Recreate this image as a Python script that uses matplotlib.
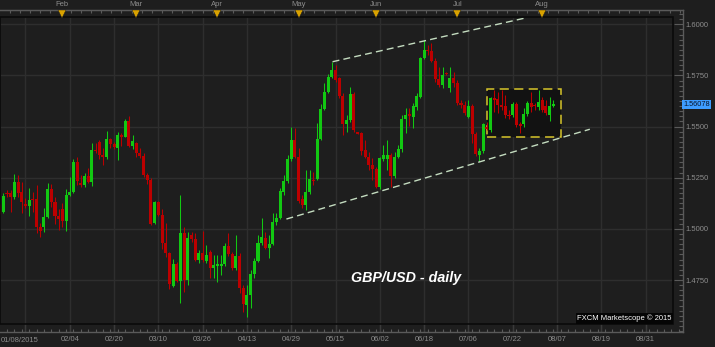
import numpy as np
import pandas as pd
import matplotlib
matplotlib.use("Agg")
import matplotlib.pyplot as plt
from matplotlib.patches import Rectangle
from matplotlib.ticker import MultipleLocator

# GBP/USD daily candles, one per weekday 2015-01-08 .. 2015-08-06
dates = pd.bdate_range("2015-01-08", "2015-08-06")

opens = [
    1.5112, 1.5084, 1.5177, 1.5175, 1.5157, 1.5231, 1.5180, 1.5123, 1.5112, 1.5146,
    1.5144, 1.5010, 1.5010, 1.5059, 1.5195, 1.5133, 1.5063, 1.5097, 1.5040, 1.5165,
    1.5181, 1.5325, 1.5226, 1.5214, 1.5258, 1.5231, 1.5385, 1.5423, 1.5361, 1.5353,
    1.5437, 1.5415, 1.5393, 1.5459, 1.5450, 1.5529, 1.5406, 1.5418, 1.5369, 1.5357,
    1.5263, 1.5239, 1.5027, 1.5130, 1.5067, 1.4929, 1.4880, 1.4722, 1.4828, 1.4746,
    1.4978, 1.4750, 1.4970, 1.4950, 1.4847, 1.4880, 1.4844, 1.4888, 1.4810, 1.4816,
    1.4820, 1.4826, 1.4917, 1.4875, 1.4807, 1.4869, 1.4709, 1.4627, 1.4676, 1.4778,
    1.4843, 1.4929, 1.4956, 1.4905, 1.4926, 1.5035, 1.5054, 1.5178, 1.5235, 1.5340,
    1.5434, 1.5353, 1.5146, 1.5116, 1.5181, 1.5241, 1.5242, 1.5439, 1.5586, 1.5667,
    1.5744, 1.5777, 1.5736, 1.5651, 1.5511, 1.5532, 1.5658, 1.5472, 1.5467, 1.5385,
    1.5353, 1.5312, 1.5291, 1.5203, 1.5340, 1.5340, 1.5361, 1.5258, 1.5350, 1.5389,
    1.5535, 1.5561, 1.5545, 1.5597, 1.5646, 1.5834, 1.5874, 1.5871, 1.5822, 1.5731,
    1.5703, 1.5763, 1.5687, 1.5736, 1.5715, 1.5614, 1.5606, 1.5545, 1.5600, 1.5464,
    1.5361, 1.5382, 1.5499, 1.5483, 1.5638, 1.5633, 1.5606, 1.5600, 1.5556, 1.5556,
    1.5610, 1.5513, 1.5513, 1.5561, 1.5614, 1.5606, 1.5597, 1.5630, 1.5600, 1.5556,
    1.5600,
]
highs = [
    1.5121, 1.5175, 1.5190, 1.5190, 1.5268, 1.5263, 1.5231, 1.5151, 1.5200, 1.5178,
    1.5214, 1.5028, 1.5102, 1.5222, 1.5219, 1.5154, 1.5097, 1.5125, 1.5193, 1.5255,
    1.5340, 1.5350, 1.5263, 1.5274, 1.5296, 1.5418, 1.5421, 1.5434, 1.5393, 1.5480,
    1.5442, 1.5426, 1.5475, 1.5467, 1.5537, 1.5552, 1.5459, 1.5426, 1.5393, 1.5369,
    1.5271, 1.5247, 1.5138, 1.5138, 1.5095, 1.5027, 1.4888, 1.4852, 1.4839, 1.5165,
    1.5007, 1.4986, 1.4986, 1.4978, 1.4896, 1.4989, 1.4921, 1.4896, 1.4872, 1.4872,
    1.4872, 1.4929, 1.4978, 1.4888, 1.4970, 1.4880, 1.4725, 1.4725, 1.4799, 1.4856,
    1.4970, 1.5051, 1.4986, 1.4970, 1.5079, 1.5076, 1.5198, 1.5263, 1.5361, 1.5499,
    1.5491, 1.5397, 1.5165, 1.5288, 1.5288, 1.5278, 1.5516, 1.5609, 1.5711, 1.5755,
    1.5817, 1.5801, 1.5744, 1.5663, 1.5556, 1.5695, 1.5668, 1.5475, 1.5472, 1.5434,
    1.5377, 1.5345, 1.5304, 1.5353, 1.5410, 1.5434, 1.5369, 1.5377, 1.5410, 1.5556,
    1.5589, 1.5591, 1.5614, 1.5663, 1.5842, 1.5923, 1.5899, 1.5907, 1.5834, 1.5793,
    1.5793, 1.5768, 1.5793, 1.5768, 1.5728, 1.5630, 1.5626, 1.5630, 1.5610, 1.5475,
    1.5393, 1.5519, 1.5524, 1.5646, 1.5679, 1.5670, 1.5679, 1.5654, 1.5581, 1.5622,
    1.5622, 1.5524, 1.5589, 1.5626, 1.5670, 1.5614, 1.5679, 1.5646, 1.5630, 1.5646,
    1.5630,
]
lows = [
    1.5072, 1.5077, 1.5157, 1.5084, 1.5146, 1.5156, 1.5079, 1.5102, 1.5063, 1.5084,
    1.4978, 1.4958, 1.4986, 1.5051, 1.5108, 1.5023, 1.4994, 1.5007, 1.4991, 1.5161,
    1.5174, 1.5214, 1.5203, 1.5203, 1.5222, 1.5209, 1.5372, 1.5340, 1.5312, 1.5340,
    1.5393, 1.5389, 1.5336, 1.5405, 1.5447, 1.5398, 1.5389, 1.5353, 1.5345, 1.5255,
    1.5219, 1.5018, 1.5023, 1.5063, 1.4900, 1.4864, 1.4704, 1.4717, 1.4741, 1.4639,
    1.4692, 1.4725, 1.4937, 1.4843, 1.4831, 1.4839, 1.4831, 1.4758, 1.4758, 1.4741,
    1.4774, 1.4820, 1.4869, 1.4799, 1.4799, 1.4685, 1.4595, 1.4570, 1.4611, 1.4761,
    1.4836, 1.4921, 1.4901, 1.4859, 1.4921, 1.5019, 1.5048, 1.5165, 1.5222, 1.5332,
    1.5345, 1.5125, 1.5100, 1.5092, 1.5169, 1.5214, 1.5239, 1.5434, 1.5581, 1.5663,
    1.5739, 1.5719, 1.5638, 1.5459, 1.5475, 1.5524, 1.5472, 1.5462, 1.5361, 1.5345,
    1.5288, 1.5239, 1.5198, 1.5193, 1.5333, 1.5288, 1.5206, 1.5247, 1.5345, 1.5377,
    1.5470, 1.5503, 1.5491, 1.5581, 1.5638, 1.5829, 1.5850, 1.5817, 1.5719, 1.5692,
    1.5687, 1.5752, 1.5670, 1.5695, 1.5606, 1.5589, 1.5556, 1.5540, 1.5418, 1.5356,
    1.5333, 1.5369, 1.5483, 1.5475, 1.5573, 1.5565, 1.5581, 1.5540, 1.5535, 1.5545,
    1.5499, 1.5470, 1.5499, 1.5552, 1.5573, 1.5581, 1.5581, 1.5573, 1.5556, 1.5529,
    1.5594,
]
closes = [
    1.5082, 1.5161, 1.5170, 1.5156, 1.5231, 1.5177, 1.5133, 1.5112, 1.5142, 1.5139,
    1.5010, 1.4991, 1.5059, 1.5195, 1.5133, 1.5063, 1.5046, 1.5040, 1.5165, 1.5181,
    1.5325, 1.5234, 1.5214, 1.5258, 1.5231, 1.5385, 1.5379, 1.5361, 1.5353, 1.5437,
    1.5413, 1.5399, 1.5459, 1.5450, 1.5529, 1.5406, 1.5431, 1.5369, 1.5357, 1.5263,
    1.5239, 1.5023, 1.5130, 1.5067, 1.4929, 1.4880, 1.4730, 1.4828, 1.4746, 1.4978,
    1.4750, 1.4955, 1.4950, 1.4847, 1.4880, 1.4847, 1.4872, 1.4810, 1.4823, 1.4826,
    1.4826, 1.4917, 1.4875, 1.4807, 1.4869, 1.4709, 1.4631, 1.4676, 1.4778, 1.4843,
    1.4932, 1.4961, 1.4905, 1.4926, 1.5035, 1.5054, 1.5186, 1.5235, 1.5340, 1.5434,
    1.5353, 1.5137, 1.5116, 1.5181, 1.5243, 1.5236, 1.5439, 1.5586, 1.5667, 1.5744,
    1.5777, 1.5728, 1.5651, 1.5511, 1.5532, 1.5658, 1.5483, 1.5465, 1.5380, 1.5353,
    1.5312, 1.5292, 1.5206, 1.5345, 1.5361, 1.5361, 1.5258, 1.5353, 1.5389, 1.5535,
    1.5556, 1.5551, 1.5600, 1.5649, 1.5834, 1.5874, 1.5869, 1.5822, 1.5731, 1.5703,
    1.5752, 1.5757, 1.5736, 1.5712, 1.5614, 1.5607, 1.5565, 1.5600, 1.5464, 1.5366,
    1.5382, 1.5513, 1.5487, 1.5638, 1.5630, 1.5606, 1.5597, 1.5556, 1.5551, 1.5610,
    1.5508, 1.5503, 1.5561, 1.5617, 1.5594, 1.5600, 1.5622, 1.5581, 1.5565, 1.5600,
    1.5608,
]

x_labels = ["02/04", "02/20", "03/10", "03/26", "04/13", "04/29", "05/15",
            "06/02", "06/18", "07/06", "07/22", "08/07", "08/19", "08/31"]
first_label = "01/08/2015"
y_ticks = [1.475, 1.500, 1.525, 1.550, 1.575, 1.600]
last_price = 1.56078

# drawn objects: (bar, price) endpoints
upper_channel = ([90.2, 142.7], [1.5817, 1.6032])
lower_channel = ([77.7, 159.9], [1.5048, 1.5487])
range_box = (132.1, 152.0, 1.5447, 1.5682)   # x0, x1, low, high

BG = "#1e1e1e"
GRID = "#2e2e2e"
FRAME = "#5a5a5a"
TXT = "#8c8c8c"
GREEN = "#12c812"
RED = "#bc0000"
FONT = "Liberation Sans"

W, H = 715, 347
PX = 3.691          # pixels per bar
X0 = 0.1
fig = plt.figure(figsize=(W / 100, H / 100), dpi=100, facecolor=BG)
ax = fig.add_axes([0, (H - 332) / H, 683 / W, 322 / H])
ax.set_facecolor(BG)
ax.set_xlim(X0, X0 + 683 / PX)
ax.set_ylim(1.44958, 1.60699)
x_in = X0 + 673 / PX
y_lo_in, y_hi_in = 1.45349, 1.60357

# grid inside the plot area
grid_x = [7 + 12 * k for k in range(len(x_labels) + 1)]
ax.hlines(y_ticks, X0, x_in, color=GRID, lw=1, zorder=0)
ax.vlines(grid_x, 1.44958, y_hi_in, color=GRID, lw=1, zorder=0)

# consolidation box
bx0, bx1, blo, bhi = range_box
ax.add_patch(Rectangle((bx0, blo), bx1 - bx0, bhi - blo, facecolor="#121212",
                       edgecolor="#d6c52a", lw=1.1, linestyle=(0, (6, 3.5)), zorder=1))

# candles
o, h, l, c = map(np.asarray, (opens, highs, lows, closes))
x = np.arange(len(dates))
col = np.where(c >= o, GREEN, RED)
ax.vlines(x, l, h, colors=col, lw=0.75, zorder=3)
ax.bar(x, np.maximum(np.abs(c - o), 0.0004), bottom=np.minimum(o, c), width=0.82,
       color=col, lw=0, zorder=4)

# channel lines
for xs, ys in (upper_channel, lower_channel):
    ax.plot(xs, ys, color="#c4dcc0", lw=1, dashes=(5, 3), zorder=5)

# inner plot border
ax.add_patch(Rectangle((X0, y_lo_in), x_in - X0, y_hi_in - y_lo_in, fill=False,
                       edgecolor="#0a0a0a", lw=1.2, zorder=6))

ax.text(110, 1.4760, "GBP/USD - daily", color="white", fontsize=10.3,
        fontweight="bold", fontstyle="italic", family=FONT, ha="center", va="center",
        zorder=7)
ax.text(x_in - 0.3, y_lo_in + 0.0008, "FXCM Marketscope \u00a9 2015", color="white",
        fontsize=5.5, family=FONT, ha="right", va="bottom", zorder=7,
        bbox=dict(boxstyle="square,pad=0.2", fc="#050505", ec="none"))

# frame
ax.spines["left"].set_visible(False)
for s in ("top", "right", "bottom"):
    ax.spines[s].set_color(FRAME)
    ax.spines[s].set_linewidth(1)

# right price axis
ax.yaxis.tick_right()
ax.set_yticks(y_ticks, labels=[f"{v:.4f}" for v in y_ticks])
ax.yaxis.set_minor_locator(MultipleLocator(0.0025))
ax.tick_params(axis="y", which="major", direction="in", length=6.5, width=0.8,
               color=FRAME, labelsize=5.5, labelcolor=TXT, pad=1.5)
ax.tick_params(axis="y", which="minor", direction="in", length=3, width=0.8, color=FRAME)
for t in ax.get_yticklabels():
    t.set_family(FONT)

ax.text(1.0, last_price, f"{last_price:.5f}", transform=ax.get_yaxis_transform(),
        ha="left", va="center", fontsize=5.3, family=FONT, color="#08142a",
        clip_on=False, zorder=8,
        bbox=dict(boxstyle="square,pad=0.18", fc="#3d9cff", ec="none"))

# bottom date axis
ax.set_xticks(grid_x, labels=[""] + x_labels)
ax.xaxis.set_minor_locator(MultipleLocator(2))
ax.tick_params(axis="x", which="major", direction="in", length=6, width=1,
               color="#3a3a3a", labelsize=5.5, labelcolor=TXT, pad=3)
ax.tick_params(axis="x", which="minor", direction="in", length=2, width=0.8, color=FRAME)
for t in ax.get_xticklabels():
    t.set_family(FONT)
fig.text(1 / W, 1 - 340.5 / H, first_label, ha="left", va="center", fontsize=5.5,
         color=TXT, family=FONT)

# top month axis
month_pos = [i for i in range(1, len(dates)) if dates[i].month != dates[i - 1].month]
month_names = [dates[i].strftime("%b") for i in month_pos]
top = ax.secondary_xaxis("top")
top.set_xticks(month_pos, labels=month_names)
top.xaxis.set_minor_locator(MultipleLocator(2.75))
top.tick_params(which="major", length=0, labelsize=5.5, labelcolor=TXT, pad=1.5)
top.tick_params(which="minor", direction="in", length=2.5, width=0.8, color=FRAME)
top.spines["top"].set_color(FRAME)
for t in top.get_xticklabels():
    t.set_family(FONT)
ax.plot(month_pos, [1 - 3.8 / 322] * len(month_pos), linestyle="none", marker="v",
        markersize=5.5, color="#d9a200", markeredgecolor="#1e1e1e", markeredgewidth=0.3,
        transform=ax.get_xaxis_transform(), clip_on=False, zorder=9)

fig.savefig("out.png", dpi=100, facecolor=BG)
